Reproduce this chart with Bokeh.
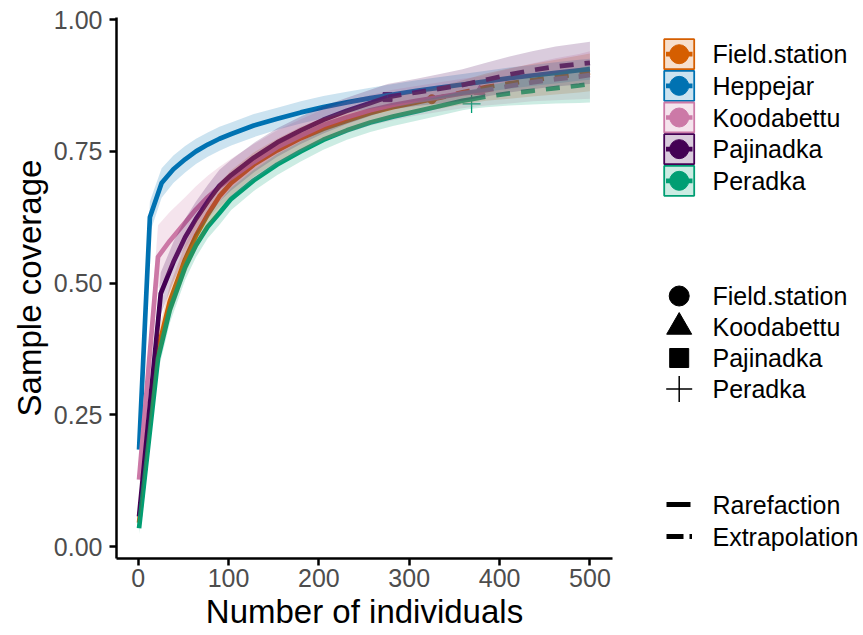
from bokeh.plotting import figure
from bokeh.models import Range1d, FixedTicker, NumeralTickFormatter
from bokeh.layouts import row
from bokeh.embed import file_html
from bokeh.resources import INLINE
from bokeh.core.properties import value

FONT = "Liberation Sans"

# ---------------- data ----------------
sites = ["Field.station", "Heppejar", "Koodabettu", "Pajinadka", "Peradka"]
colors = ["#D55E00", "#0072B2", "#CC79A7", "#440154", "#009E73"]

# Field.station (observed n = 325)
fie_m = [1, 22, 35, 52, 64, 77, 90, 103, 128, 154, 180, 205, 231, 257, 282, 308, 325,
         334, 359, 385, 411, 436, 462, 488, 500]
fie_sc = [0.045, 0.375, 0.465, 0.545, 0.590, 0.630, 0.665, 0.690, 0.725, 0.752, 0.775, 0.793,
          0.808, 0.823, 0.834, 0.843, 0.849, 0.852, 0.862, 0.872, 0.879, 0.885, 0.891, 0.897, 0.900]
fie_ci = [0.010, 0.030, 0.030, 0.028, 0.027, 0.026, 0.025, 0.024, 0.023, 0.022, 0.022, 0.021,
          0.021, 0.020, 0.020, 0.020, 0.020, 0.021, 0.023, 0.026, 0.029, 0.031, 0.033, 0.035, 0.036]
fie_nobs = 325

# Heppejar (observed n beyond 500: rarefaction only)
hep_m = [1, 13, 26, 39, 52, 64, 77, 90, 103, 128, 154, 180, 205, 231, 257, 282, 308, 334,
         359, 385, 411, 436, 462, 488, 500]
hep_sc = [0.184, 0.625, 0.690, 0.716, 0.735, 0.750, 0.763, 0.774, 0.783, 0.799, 0.812, 0.824,
          0.834, 0.843, 0.851, 0.858, 0.865, 0.871, 0.877, 0.883, 0.889, 0.894, 0.899, 0.904, 0.906]
hep_ci = [0.004, 0.030, 0.028, 0.026, 0.025, 0.024, 0.023, 0.023, 0.022, 0.022, 0.021, 0.021,
          0.021, 0.020, 0.020, 0.020, 0.020, 0.020, 0.020, 0.020, 0.020, 0.020, 0.020, 0.020, 0.020]
hep_nobs = 500

# Koodabettu (observed n = 378)
koo_m = [1, 22, 35, 52, 64, 77, 90, 103, 128, 154, 180, 205, 231, 257, 282, 308, 334, 359, 378,
         385, 411, 436, 462, 488, 500]
koo_sc = [0.127, 0.550, 0.580, 0.615, 0.640, 0.663, 0.683, 0.700, 0.730, 0.758, 0.780, 0.800,
          0.815, 0.828, 0.838, 0.846, 0.853, 0.860, 0.864, 0.866, 0.874, 0.881, 0.887, 0.892, 0.895]
koo_ci = [0.012, 0.060, 0.055, 0.048, 0.044, 0.041, 0.038, 0.036, 0.034, 0.032, 0.031, 0.030,
          0.030, 0.029, 0.029, 0.028, 0.028, 0.028, 0.028, 0.029, 0.033, 0.036, 0.040, 0.043, 0.045]
koo_nobs = 378

# Pajinadka (observed n = 276)
paj_m = [1, 25, 39, 52, 64, 77, 90, 103, 128, 154, 180, 205, 231, 257, 276,
         282, 308, 334, 359, 385, 411, 436, 462, 488, 500]
paj_sc = [0.057, 0.480, 0.540, 0.587, 0.622, 0.655, 0.685, 0.705, 0.738, 0.767, 0.790, 0.810,
          0.827, 0.842, 0.853, 0.855, 0.862, 0.869, 0.876, 0.886, 0.896, 0.904, 0.911, 0.916, 0.918]
paj_ci = [0.010, 0.040, 0.038, 0.035, 0.033, 0.031, 0.030, 0.029, 0.028, 0.027, 0.026, 0.026,
          0.025, 0.025, 0.025, 0.025, 0.026, 0.028, 0.030, 0.032, 0.034, 0.036, 0.038, 0.039, 0.040]
paj_nobs = 276

# Peradka (observed n = 369)
per_m = [1, 22, 35, 52, 64, 77, 90, 103, 128, 154, 180, 205, 231, 257, 282, 308, 334, 359, 369,
         385, 411, 436, 462, 488, 500]
per_sc = [0.035, 0.357, 0.449, 0.530, 0.572, 0.607, 0.633, 0.660, 0.695, 0.725, 0.750, 0.772,
          0.790, 0.805, 0.816, 0.826, 0.836, 0.846, 0.849, 0.854, 0.860, 0.865, 0.870, 0.875, 0.878]
per_ci = [0.011, 0.025, 0.025, 0.024, 0.023, 0.022, 0.022, 0.021, 0.020, 0.020, 0.019, 0.019,
          0.018, 0.018, 0.018, 0.018, 0.018, 0.018, 0.018, 0.020, 0.023, 0.026, 0.029, 0.033, 0.035]
per_nobs = 369

# observed points (shape legend)
obs_sites = ["Field.station", "Koodabettu", "Pajinadka", "Peradka"]
obs_n = [325, 378, 276, 369]
obs_sc = [0.849, 0.864, 0.853, 0.840]
obs_markers = ["circle", "triangle", "square", "cross"]

method_labels = ["Rarefaction", "Extrapolation"]
x_ticks = [0, 100, 200, 300, 400, 500]
y_ticks = [0.0, 0.25, 0.5, 0.75, 1.0]

series = [
    (fie_m, fie_sc, fie_ci, fie_nobs),
    (hep_m, hep_sc, hep_ci, hep_nobs),
    (koo_m, koo_sc, koo_ci, koo_nobs),
    (paj_m, paj_sc, paj_ci, paj_nobs),
    (per_m, per_sc, per_ci, per_nobs),
]

LW = 4.7
DASH = "14 11"
plot_marker_sizes = {"circle": 9, "triangle": 11, "square": 9, "cross": 18}
legend_marker_sizes = {"circle": 20, "triangle": 25, "square": 19, "cross": 26}

# ---------------- main plot ----------------
p = figure(width=620, height=635, output_backend="svg", toolbar_location=None,
           x_range=Range1d(-23.95, 524.95), y_range=Range1d(-0.0226, 1.0041),
           min_border_left=116, min_border_right=8, min_border_top=17, min_border_bottom=77,
           background_fill_color="white", border_fill_color="white")
p.grid.visible = False
p.outline_line_color = None

# observed points (drawn first, under the lines)
for s, n, sc, mk in zip(obs_sites, obs_n, obs_sc, obs_markers):
    c = colors[sites.index(s)]
    if mk == "cross":
        p.scatter([n], [sc], marker=mk, size=plot_marker_sizes[mk], line_color=c, line_width=1.3)
    else:
        p.scatter([n], [sc], marker=mk, size=plot_marker_sizes[mk], fill_color=c, line_color=c)

# lines
for (m, sc, ci, nobs), c in zip(series, colors):
    k = max(i for i, v in enumerate(m) if v <= nobs)
    p.line(m[:k + 1], sc[:k + 1], line_color=c, line_width=LW, line_join="round")
    if k < len(m) - 1:
        p.line(m[k:], sc[k:], line_color=c, line_width=LW, line_join="round", line_dash=DASH)

# ribbons on top
for (m, sc, ci, nobs), c in zip(series, colors):
    lo = [a - b for a, b in zip(sc, ci)]
    hi = [a + b for a, b in zip(sc, ci)]
    p.varea(x=m, y1=lo, y2=hi, fill_color=c, fill_alpha=0.2)

for ax in (p.xaxis[0], p.yaxis[0]):
    ax.axis_line_width = 2.5
    ax.axis_line_color = "black"
    ax.major_tick_line_width = 2.5
    ax.major_tick_line_color = "black"
    ax.major_tick_out = 7
    ax.major_tick_in = 0
    ax.minor_tick_out = 0
    ax.minor_tick_in = 0
    ax.major_label_text_font = FONT
    ax.major_label_text_font_size = "25px"
    ax.major_label_text_color = "#4D4D4D"
    ax.axis_label_text_font = FONT
    ax.axis_label_text_font_size = "33px"
    ax.axis_label_text_font_style = "normal"
    ax.axis_label_text_color = "black"

p.xaxis[0].ticker = FixedTicker(ticks=x_ticks)
p.yaxis[0].ticker = FixedTicker(ticks=y_ticks)
p.yaxis[0].formatter = NumeralTickFormatter(format="0.00")
p.xaxis[0].axis_label = "Number of individuals"
p.yaxis[0].axis_label = "Sample coverage"
p.yaxis[0].major_label_standoff = 7
p.yaxis[0].axis_label_standoff = 3
p.xaxis[0].major_label_standoff = 3
p.xaxis[0].axis_label_standoff = 3

# ---------------- legends panel ----------------
# frame is kept at the same pixel rows (17..558) as the main panel, so the ranges
# below map one unit to one pixel
lg = figure(width=243, height=635, output_backend="svg", toolbar_location=None,
            x_range=Range1d(620, 863), y_range=Range1d(558, 17),
            x_axis_location=None, y_axis_location=None,
            min_border_left=0, min_border_right=0, min_border_top=17, min_border_bottom=77,
            background_fill_color="white", border_fill_color="white")
lg.grid.visible = False
lg.outline_line_color = None

KX = 678.7
TX = 712
txt = dict(text_font=value(FONT), text_font_size=value("25px"), text_baseline="middle",
           text_align="left", text_color="black")

# colour / fill legend
rows1 = [53.7 + 31.65 * i for i in range(len(sites))]
lg.rect(x=[KX] * len(sites), y=rows1, width=30, height=30, fill_color=colors, fill_alpha=0.2,
        line_color=None)
for yy, c in zip(rows1, colors):
    lg.line([665.5, 692], [yy, yy], line_color=c, line_width=LW)
lg.scatter(x=[KX] * len(sites), y=rows1, marker="circle", size=19, fill_color=colors,
           line_color=colors)
lg.rect(x=[KX] * len(sites), y=rows1, width=30, height=30, fill_color=None,
        line_color=colors, line_width=1.8)
lg.text(x=[TX] * len(sites), y=rows1, text=sites, **txt)

# shape legend
rows2 = [295.5 + 31.0 * i for i in range(len(obs_sites))]
for yy, mk in zip(rows2, obs_markers):
    if mk == "cross":
        lg.scatter([KX], [yy], marker=mk, size=legend_marker_sizes[mk], line_color="black",
                   line_width=1.5)
    else:
        lg.scatter([KX], [yy], marker=mk, size=legend_marker_sizes[mk], fill_color="black",
                   line_color="black")
lg.text(x=[TX] * len(obs_sites), y=rows2, text=obs_sites, **txt)

# linetype legend
rows3 = [504.0, 536.0]
lg.line([666, 690], [rows3[0], rows3[0]], line_color="black", line_width=5)
lg.line([666, 691.5], [rows3[1], rows3[1]], line_color="black", line_width=5, line_dash="17 6")
lg.text(x=[TX] * 2, y=rows3, text=method_labels, **txt)

layout = row(p, lg)
open("out.html", "w").write(file_html(layout, INLINE))
